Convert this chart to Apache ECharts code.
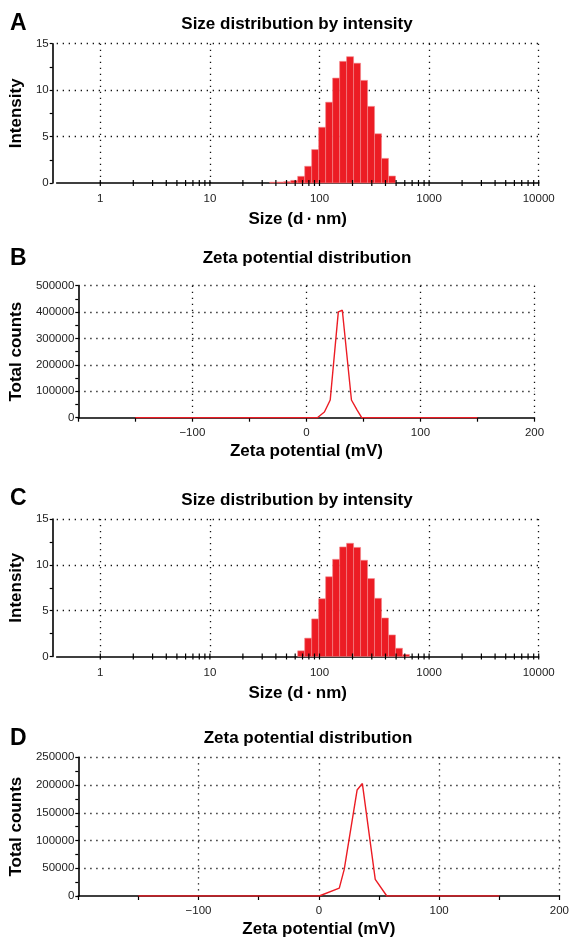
<!DOCTYPE html>
<html><head><meta charset="utf-8">
<script src="https://cdn.jsdelivr.net/npm/echarts@6/dist/echarts.min.js"></script>
<style>html,body{margin:0;padding:0;background:#fff}#c{width:572px;height:939px}</style>
</head><body><div id="c"></div>
<script>
// ---- data ----
const sizeA = [37.84, 43.82, 50.75, 58.77, 68.06, 78.82, 91.28, 105.7, 122.4, 141.8, 164.2, 190.1, 220.2, 255.0, 295.3, 342.0, 396.1, 458.7];
const intensityA = [0.08, 0.1, 0.15, 0.28, 0.72, 1.8, 3.6, 6.0, 8.7, 11.3, 13.1, 13.6, 12.9, 11.05, 8.25, 5.3, 2.65, 0.75];
const sizeC = [68.06, 78.82, 91.28, 105.7, 122.4, 141.8, 164.2, 190.1, 220.2, 255.0, 295.3, 342.0, 396.1, 458.7, 531.2, 615.1];
const intensityC = [0.62, 2.0, 4.1, 6.3, 8.7, 10.6, 11.95, 12.35, 11.9, 10.5, 8.5, 6.35, 4.2, 2.35, 0.9, 0.22];
const zetaB = [-150, 9.6, 15.8, 20.9, 28.0, 31.5, 39.5, 44.5, 48.5, 150];
const countsB = [0, 0, 21600, 67000, 401000, 407000, 67000, 29000, 0, 0];
const zetaD = [-150, 0.3, 17.0, 21.1, 31.8, 36.2, 46.9, 56.5, 150];
const countsD = [0, 0, 14200, 47900, 191000, 202700, 30100, 0, 0];
const sizeTickLabels = ['1', '10', '100', '1000', '10000'];
const zetaTickLabels = ['\u2212100', '0', '100', '200'];
const panelLetters = ['A', 'B', 'C', 'D'];
const sizeTitle = 'Size distribution by intensity';
const zetaTitle = 'Zeta potential distribution';

// ---- helpers ----
const FONT = '"Liberation Sans", Arial, sans-serif';
const RED = '#EC1C24';
function binRows(sizes, vals) {
  return sizes.map((s, i) => {
    const prev = i > 0 ? sizes[i - 1] : s * s / sizes[i + 1];
    const next = i < sizes.length - 1 ? sizes[i + 1] : s * s / sizes[i - 1];
    return [Math.sqrt(prev * s), Math.sqrt(s * next), vals[i]];
  });
}
const logTicks = [];
for (let e = 0; e < 4; e++) for (let m = 1; m <= 9; m++) logTicks.push([m * Math.pow(10, e)]);
logTicks.push([10000]);

function renderBar(params, api) {
  const a = api.coord([api.value(0), 0]);
  const b = api.coord([api.value(1), api.value(2)]);
  return { type: 'rect', shape: { x: a[0], y: b[1], width: b[0] - a[0], height: a[1] - b[1] },
    style: { fill: RED, stroke: '#F3868C', lineWidth: 0.6 } };
}
function renderTick(params, api) {
  const p = api.coord([api.value(0), 0]);
  return { type: 'line', shape: { x1: p[0], y1: p[1] - 3, x2: p[0], y2: p[1] + 3 },
    style: { stroke: '#000', lineWidth: 1.2 } };
}
const dotted = { show: true, showMinLine: false, lineStyle: { color: '#111', width: 1.3, type: [1.3, 4.7] } };
const axisLineStyle = { show: true, onZero: false, lineStyle: { color: '#000', width: 1.6 } };
const labelStyle = { color: '#222', fontFamily: FONT, fontSize: 11.5 };
const nameStyle = { color: '#000', fontFamily: FONT, fontSize: 17, fontWeight: 'bold' };

const grids = [
  { left: 54, top: 43.7, width: 484.7, height: 139.3 },
  { left: 76, top: 285.7, width: 458.5, height: 132 },
  { left: 54, top: 519, width: 484.7, height: 137.5 },
  { left: 75.5, top: 757.3, width: 486.5, height: 140 }
];

function sizeX(gi) {
  return { type: 'log', logBase: 10, gridIndex: gi, min: 0.4, max: 10000,
    name: 'Size (d\u2009\u00b7\u2009nm)', nameLocation: 'middle', nameGap: 28, nameTextStyle: nameStyle,
    axisLine: axisLineStyle, axisTick: { show: false }, minorTick: { show: false },
    axisLabel: Object.assign({ margin: 10, showMinLabel: false,
      formatter: v => (v >= 1 ? sizeTickLabels[Math.round(Math.log10(v))] : '') }, labelStyle),
    splitLine: dotted };
}
function zetaX(gi, gap) {
  return { type: 'value', gridIndex: gi, min: -200, max: 200, interval: 100,
    name: 'Zeta potential (mV)', nameLocation: 'middle', nameGap: gap, nameTextStyle: nameStyle,
    axisLine: axisLineStyle,
    axisTick: { show: true, length: 4, lineStyle: { color: '#000', width: 1.2 } },
    minorTick: { show: true, splitNumber: 2, length: 4, lineStyle: { color: '#000', width: 1.2 } },
    axisLabel: Object.assign({ margin: 9, showMinLabel: false,
      formatter: v => (v > -200 ? zetaTickLabels[(v + 100) / 100] : '') }, labelStyle),
    splitLine: dotted };
}
function yAx(gi, max, interval, name, gap, offset) {
  return { type: 'value', gridIndex: gi, min: 0, max: max, interval: interval, offset: offset,
    name: name, nameLocation: 'middle', nameGap: gap, nameTextStyle: nameStyle,
    axisLine: axisLineStyle,
    axisTick: { show: true, length: 3, lineStyle: { color: '#000', width: 1.2 } },
    minorTick: { show: true, splitNumber: 2, length: 3, lineStyle: { color: '#000', width: 1.2 } },
    axisLabel: Object.assign({ margin: 4, formatter: v => String(v) }, labelStyle),
    splitLine: dotted };
}

const titles = [
  { t: sizeTitle, x: 297, y: 24.5 },
  { t: zetaTitle, x: 307, y: 258.5 },
  { t: sizeTitle, x: 297, y: 500 },
  { t: zetaTitle, x: 308, y: 738.5 }
];
const letterY = [23.5, 259, 499, 739];
const graphic = [];
titles.forEach((o, i) => {
  graphic.push({ type: 'text', x: o.x, y: o.y, style: { text: o.t, fill: '#000', font: 'bold 17px ' + FONT, textAlign: 'center', textVerticalAlign: 'middle' } });
  graphic.push({ type: 'text', x: 10, y: letterY[i], style: { text: panelLetters[i], fill: '#000', font: 'bold 23px ' + FONT, textAlign: 'left', textVerticalAlign: 'middle' } });
});

const option = {
  animation: false,
  backgroundColor: '#fff',
  grid: grids,
  graphic: graphic,
  xAxis: [sizeX(0), zetaX(1, 25), sizeX(2), zetaX(3, 25)],
  yAxis: [
    yAx(0, 15, 5, 'Intensity', 22, 4),
    yAx(1, 500000, 100000, 'Total counts', 48, 0),
    yAx(2, 15, 5, 'Intensity', 22, 4),
    yAx(3, 250000, 50000, 'Total counts', 48, 0)
  ],
  series: [
    { type: 'custom', xAxisIndex: 0, yAxisIndex: 0, renderItem: renderBar, encode: { x: [0, 1], y: 2 }, data: binRows(sizeA, intensityA), z: 3 },
    { type: 'custom', xAxisIndex: 0, yAxisIndex: 0, renderItem: renderTick, encode: { x: 0 }, data: logTicks, clip: false, silent: true, z: 4 },
    { type: 'line', xAxisIndex: 1, yAxisIndex: 1, data: zetaB.map((v, i) => [v, countsB[i]]), showSymbol: false, symbol: 'none', lineStyle: { color: RED, width: 1.4 }, z: 3 },
    { type: 'custom', xAxisIndex: 2, yAxisIndex: 2, renderItem: renderBar, encode: { x: [0, 1], y: 2 }, data: binRows(sizeC, intensityC), z: 3 },
    { type: 'custom', xAxisIndex: 2, yAxisIndex: 2, renderItem: renderTick, encode: { x: 0 }, data: logTicks, clip: false, silent: true, z: 4 },
    { type: 'line', xAxisIndex: 3, yAxisIndex: 3, data: zetaD.map((v, i) => [v, countsD[i]]), showSymbol: false, symbol: 'none', lineStyle: { color: RED, width: 1.4 }, z: 3 }
  ]
};
const chart = echarts.init(document.getElementById('c'), null, { renderer: 'canvas' });
chart.setOption(option);
</script></body></html>
